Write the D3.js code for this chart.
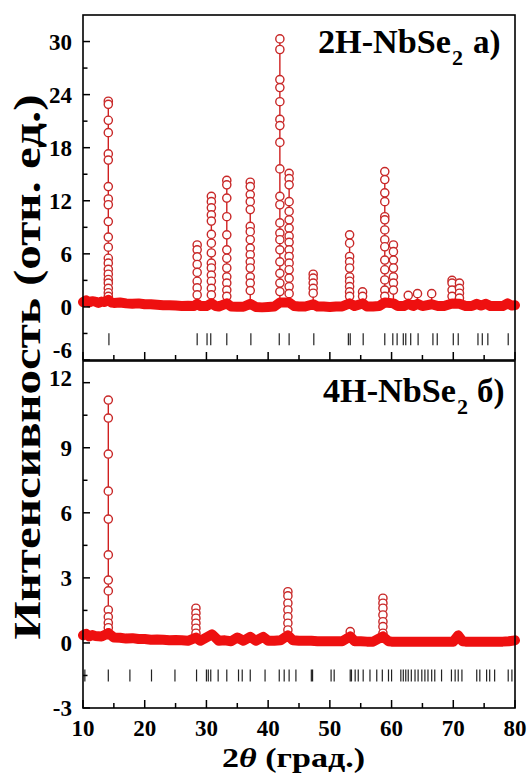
<!DOCTYPE html>
<html><head><meta charset="utf-8">
<script src="https://cdn.jsdelivr.net/npm/d3@7"></script>
<style>
body{margin:0;background:#fff}
svg{display:block}
</style>
</head><body>
<svg id="c" width="529" height="773"></svg>
<script>
// ---------------- DATA ----------------
const xMajor = [10, 20, 30, 40, 50, 60, 70, 80];
const xMinor = [15, 25, 35, 45, 55, 65, 75];
const topYMajor = [30, 24, 18, 12, 6, 0, -6];
const topYMinor = [27, 21, 15, 9, 3, -3];
const botYMajor = [12, 9, 6, 3, 0, -3];
const botYMinor = [10.5, 7.5, 4.5, 1.5, -1.5];

// background (noisy band) of 2H-NbSe2
const topBaseline = [[10,0.55],[10.5,0.75],[11,0.5],[11.5,0.65],[12,0.6],[12.5,0.45],[13,0.6],[13.5,0.55],[14.1,0.8],[14.6,0.5],[15,0.45],[16,0.5],[17,0.4],[18,0.35],[19,0.4],[20,0.3],[21,0.3],[22,0.25],[23,0.2],[24,0.2],[25,0.15],[26,0.1],[27,0.12],[28,0.1],[28.5,0.35],[29,0.1],[30,0.1],[30.8,0.4],[31.5,0.1],[32,0.05],[33.3,0.4],[34,0.05],[35,0.02],[36,0.02],[37.1,0.35],[38,0.0],[39,-0.05],[40,0.0],[41,0.05],[41.9,0.5],[43.4,0.5],[44.2,0.1],[45,0.05],[46,0.05],[47.3,0.3],[48,0.05],[49,0.05],[50,0.0],[51,0.05],[52,0.05],[53.2,0.4],[54,0.1],[55.3,0.4],[56,0.05],[57,0.05],[58,0.1],[58.9,0.5],[60.3,0.4],[61,0.1],[62,0.1],[62.7,0.35],[63.5,0.1],[64.2,0.35],[65,0.1],[66.5,0.3],[67.5,0.1],[68.5,0.1],[69.8,0.4],[71,0.35],[72,0.1],[73,0.1],[73.8,0.35],[74.5,0.15],[75.3,0.35],[76,0.1],[77,0.1],[78,0.1],[78.8,0.4],[79.5,0.15],[80,0.2]];

// peaks of 2H-NbSe2: positions and circle intensities
const topPeakPos = [14.1, 28.5, 30.8, 33.3, 37.1, 41.9, 43.4, 47.3, 53.2, 55.3, 58.9, 60.3, 62.7, 64.2, 66.5, 69.8, 71.0];
const topPeakI = [
  [23.25,22.9,21.1,19.7,17.3,16.6,13.6,12.2,11.55,9.65,7.9,6.75,5.5,4.95,4.25,3.7,3.1,2.7,2.1,1.6,1.2],
  [7.0,6.45,5.66,4.8,3.9,2.9,2.15,1.36],
  [12.5,11.9,11.2,10.4,9.7,8.2,7.2,6.1,4.95,4.4,3.6,2.9,2.1,1.36],
  [14.3,13.8,12.3,10.2,8.15,6.45,5.5,4.4,3.4,2.7,1.9,1.2],
  [14.1,13.6,12.7,11.9,11.0,9.1,8.5,7.6,6.65,5.9,5.1,4.4,3.4,2.7,1.85],
  [30.3,29.1,25.7,24.8,23.2,21.2,20.5,18.6,15.6,12.5,11.55,9.5,8.35,7.6,6.45,5.1,3.8,2.7,1.73],
  [15.1,14.5,13.8,11.9,10.8,9.85,8.9,8.0,7.3,6.45,5.7,4.95,4.2,3.25,2.3,1.5],
  [3.7,3.25,2.7,2.1,1.55],
  [8.15,7.2,5.7,5.1,4.4,3.4,2.9,2.3,1.7,1.2],
  [1.7,1.2],
  [15.3,14.4,12.9,11.9,10.2,9.85,8.7,7.6,6.8,5.3,4.2,3.05,1.9,1.2],
  [7.0,6.25,5.3,4.4,3.4,2.7,1.9],
  [1.3],
  [1.5],
  [1.5],
  [3.0,2.7,1.9,1.2],
  [2.7,2.1,1.55,1.0]
];
const topBragg = [14.2,28.5,30.1,30.7,33.3,37.2,41.8,43.4,47.4,53.0,53.3,55.4,58.9,60.2,60.9,61.9,62.3,63.1,64.3,66.7,67.4,70.0,70.8,74.0,74.7,75.6,78.9];

// background of 4H-NbSe2
const botBaseline = [[10,0.35],[10.5,0.42],[11,0.3],[11.5,0.36],[12,0.32],[13,0.3],[14.1,0.45],[15,0.25],[16,0.24],[17,0.2],[18,0.22],[19,0.18],[20,0.18],[21,0.15],[22,0.16],[23,0.15],[24,0.12],[25,0.13],[26,0.12],[27,0.1],[28.3,0.25],[29,0.1],[30.9,0.4],[32,0.1],[33,0.12],[34,0.08],[35,0.25],[36,0.1],[37.1,0.28],[38,0.1],[39.2,0.28],[40,0.1],[41,0.1],[42,0.12],[43.2,0.35],[44,0.12],[45,0.1],[46,0.1],[47,0.1],[48,0.08],[49,0.08],[50,0.08],[51,0.08],[52,0.08],[53.3,0.3],[54,0.08],[55,0.08],[56,0.06],[57,0.06],[58.6,0.3],[59.5,0.08],[60,0.06],[61,0.06],[62,0.06],[63,0.05],[64,0.06],[65,0.05],[66,0.06],[67,0.05],[68,0.06],[69,0.05],[70,0.06],[70.8,0.35],[71.5,0.08],[72,0.06],[73,0.06],[74,0.05],[75,0.06],[76,0.06],[77,0.05],[78,0.06],[79,0.08],[80,0.12]];

const botPeakPos = [14.1, 28.3, 43.2, 53.3, 58.6];
const botPeakI = [
  [11.2,10.37,8.71,7.0,5.71,4.06,2.9,2.4,1.52,1.2,0.92,0.7,0.46],
  [1.6,1.37,1.14,0.91,0.68,0.45],
  [2.36,2.17,1.83,1.52,1.21,0.91,0.6],
  [0.52],
  [2.06,1.83,1.6,1.29,0.98,0.75,0.45]
];
const botBragg = [10.3,14.1,17.6,21.1,24.9,28.4,30.0,30.3,30.7,31.9,33.3,35.2,35.8,37.1,39.5,41.8,42.6,43.4,44.5,47.0,47.2,50.2,50.7,53.3,53.5,54.1,54.6,55.4,56.5,57.6,58.5,59.5,60.0,61.5,61.9,62.3,62.7,63.2,63.8,64.3,64.9,65.4,65.9,66.5,67.0,68.1,69.7,70.3,70.8,71.4,73.8,74.3,75.4,75.9,76.7,78.9,79.5];

// ---------------- DRAWING ----------------
const FONT = "Liberation Serif";
const svg = d3.select("#c");
const L = 83, R = 515;
const x = d3.scaleLinear().domain([10, 80]).range([L, R]);
const yTop = d3.scaleLinear().domain([-6, 33]).range([360, 15]);
const yBot = d3.scaleLinear().domain([-3, 13]).range([708, 361]);

const bandColor = "#ee1010";
const circColor = "#c82828";

function txt(sel) {
  return sel.attr("font-family", FONT).attr("font-weight", "bold").attr("fill", "#000");
}

function panel(y, baseline, peakPos, peakI, bragg, braggLevel, yMajor, yMinor, labelShift) {
  const g = svg.append("g");
  const [y0, y1] = y.range(); // bottom, top
  const line = d3.line().x(d => x(d[0])).y(d => y(d[1]));
  // peak lines
  peakPos.forEach((p, i) => {
    const base = baseline.reduce((a, b) => Math.abs(b[0] - p) < Math.abs(a[0] - p) ? b : a)[1];
    const pts = [[p, base]].concat(peakI[i].slice().sort((a, b) => a - b).map(v => [p, v]));
    g.append("path").attr("d", line(pts)).attr("fill", "none")
      .attr("stroke", "#d02020").attr("stroke-width", 1.4);
  });
  // circles
  peakPos.forEach((p, i) => {
    g.selectAll(null).data(peakI[i]).enter().append("circle")
      .attr("cx", x(p)).attr("cy", d => y(d)).attr("r", 4.1)
      .attr("fill", "#fff").attr("stroke", circColor).attr("stroke-width", 1.4);
  });
  // noisy band
  g.append("path").attr("d", line(baseline)).attr("fill", "none")
    .attr("stroke", bandColor).attr("stroke-width", 10).attr("stroke-linejoin", "round").attr("stroke-linecap", "round");
  // bragg ticks
  g.selectAll(null).data(bragg).enter().append("line")
    .attr("x1", d => x(d)).attr("x2", d => x(d))
    .attr("y1", y(braggLevel) - 6).attr("y2", y(braggLevel) + 6)
    .attr("stroke", "#222").attr("stroke-width", 1.2);
  // y ticks (inward)
  g.selectAll(null).data(yMajor).enter().append("line")
    .attr("x1", L).attr("x2", L + 7).attr("y1", d => y(d)).attr("y2", d => y(d))
    .attr("stroke", "#000").attr("stroke-width", 1.5);
  g.selectAll(null).data(yMinor).enter().append("line")
    .attr("x1", L).attr("x2", L + 4.5).attr("y1", d => y(d)).attr("y2", d => y(d))
    .attr("stroke", "#000").attr("stroke-width", 1.5);
  txt(g.selectAll(null).data(yMajor).enter().append("text"))
    .attr("x", 72).attr("y", d => y(d) + 8 + (labelShift[d] || 0))
    .attr("text-anchor", "end").attr("font-size", 23).text(d => d);
  // x ticks on bottom edge (inward)
  g.selectAll(null).data(xMajor).enter().append("line")
    .attr("x1", d => x(d)).attr("x2", d => x(d)).attr("y1", y0).attr("y2", y0 - 8)
    .attr("stroke", "#000").attr("stroke-width", 1.5);
  g.selectAll(null).data(xMinor).enter().append("line")
    .attr("x1", d => x(d)).attr("x2", d => x(d)).attr("y1", y0).attr("y2", y0 - 5)
    .attr("stroke", "#000").attr("stroke-width", 1.5);
  // frame
  g.append("rect").attr("x", L).attr("y", y1).attr("width", R - L).attr("height", y0 - y1)
    .attr("fill", "none").attr("stroke", "#000").attr("stroke-width", 1.6);
}

panel(yTop, topBaseline, topPeakPos, topPeakI, topBragg, -3.65, topYMajor, topYMinor, {"-6": -10});
panel(yBot, botBaseline, botPeakPos, botPeakI, botBragg, -1.5, botYMajor, botYMinor, {"12": -5});

// x tick labels
txt(svg.selectAll(null).data(xMajor).enter().append("text"))
  .attr("x", d => x(d)).attr("y", 736).attr("text-anchor", "middle").attr("font-size", 23).text(d => d);

// axis titles
txt(svg.append("text")).attr("transform", "translate(40,367) rotate(-90)")
  .attr("text-anchor", "middle").attr("font-size", 37)
  .attr("textLength", 545).attr("lengthAdjust", "spacingAndGlyphs")
  .text("Интенсивность (отн. ед.)");
const xl = txt(svg.append("text")).attr("x", 222).attr("y", 767).attr("font-size", 28)
  .attr("textLength", 143).attr("lengthAdjust", "spacingAndGlyphs");
xl.append("tspan").text("2");
xl.append("tspan").attr("font-style", "italic").text("θ");
xl.append("tspan").text(" (град.)");

// panel labels
function plabel(x0, base, w, sub, tag, tagX) {
  txt(svg.append("text")).attr("x", x0).attr("y", base).attr("font-size", 33)
    .attr("textLength", w).attr("lengthAdjust", "spacingAndGlyphs").text(sub);
  txt(svg.append("text")).attr("x", x0 + w + 1).attr("y", base + 12).attr("font-size", 22).text("2");
  txt(svg.append("text")).attr("x", tagX).attr("y", base).attr("font-size", 33).text(tag);
}
plabel(318, 53, 133, "2H-NbSe", "а)", 473);
plabel(323, 402, 133, "4H-NbSe", "б)", 477);
</script>
</body></html>
